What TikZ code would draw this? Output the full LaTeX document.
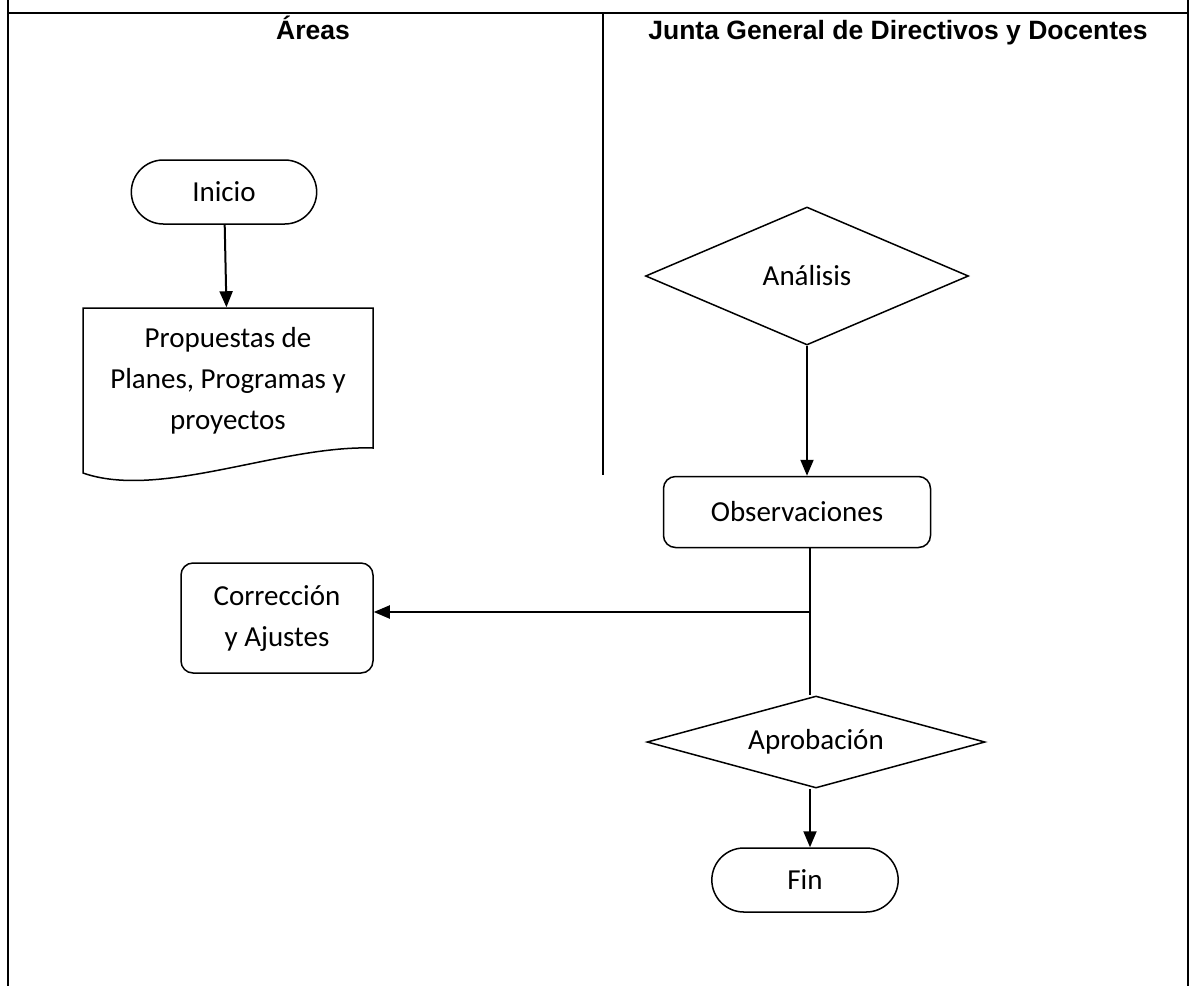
\documentclass[tikz,border=0pt]{standalone}
\usepackage{fontspec}
\setmainfont{Carlito}
\newfontfamily\headfont{Liberation Sans}
\usepackage{tikz}
\usetikzlibrary{positioning,arrows.meta,shapes.geometric,shapes.misc}
\tikzset{every node/.style={font=\fontsize{29}{41}\selectfont}}

\begin{document}
\begin{tikzpicture}[x=1pt, y=-1pt, line width=1.5pt,
  term/.style={draw, rounded rectangle, minimum width=192pt, minimum height=64pt},
  proc/.style={draw, rectangle, rounded corners=12pt, align=center},
  decision/.style={draw, diamond, inner sep=0pt},
  arr/.style={-{Triangle[length=16pt,width=13pt]}, line width=2pt},
  head/.style={anchor=base, font=\headfont\bfseries\fontsize{26.5}{30}\selectfont}]

\useasboundingbox (0,0) rectangle (1196,986);

% frame and lanes
\draw[line width=2pt] (8,0) -- (8,986);
\draw[line width=2pt] (1188,0) -- (1188,986);
\draw[line width=2pt] (8,13) -- (1188,13);
\draw (603,13) -- (603,475);

\node (areas) [head] at (313,39) {Áreas};
\node (junta) [head] at (898,39) {Junta General de Directivos y Docentes};

% left lane
\node (ini) [term] at (224,192) {Inicio};
\draw (83,308) -- (373,308) -- (373,448) .. controls (280,445) and (160,500) .. (83,473) -- cycle;
\node (prop) [align=center, minimum width=290pt, minimum height=146pt] at (228,381) {Propuestas de\\Planes, Programas y\\proyectos};
\node (corr) [proc, minimum width=192pt, minimum height=110pt] at (277,618) {Corrección\\y Ajustes};

% right lane
\node (anal) [decision, aspect=2.3, minimum width=323pt, minimum height=138pt] at (807,276) {Análisis};
\node (obs) [proc, minimum width=267pt, minimum height=71pt] at (797,512) {Observaciones};
\node (apro) [decision, aspect=3.6, minimum width=338pt, minimum height=92pt] at (816,742) {Aprobación};
\node (fin) [term, minimum width=193pt] at (805,880) {Fin};
\coordinate (jn) at (810,612);

\draw[arr] (ini) -- (prop);
\draw[arr] (anal.south) -- (anal.south |- obs.north);
\draw (obs.south -| jn) -- (apro.north -| jn);
\draw[arr] (jn) -- (corr.east |- jn);
\draw[arr] (apro.south -| jn) -- (fin.north -| jn);

\end{tikzpicture}
\end{document}
